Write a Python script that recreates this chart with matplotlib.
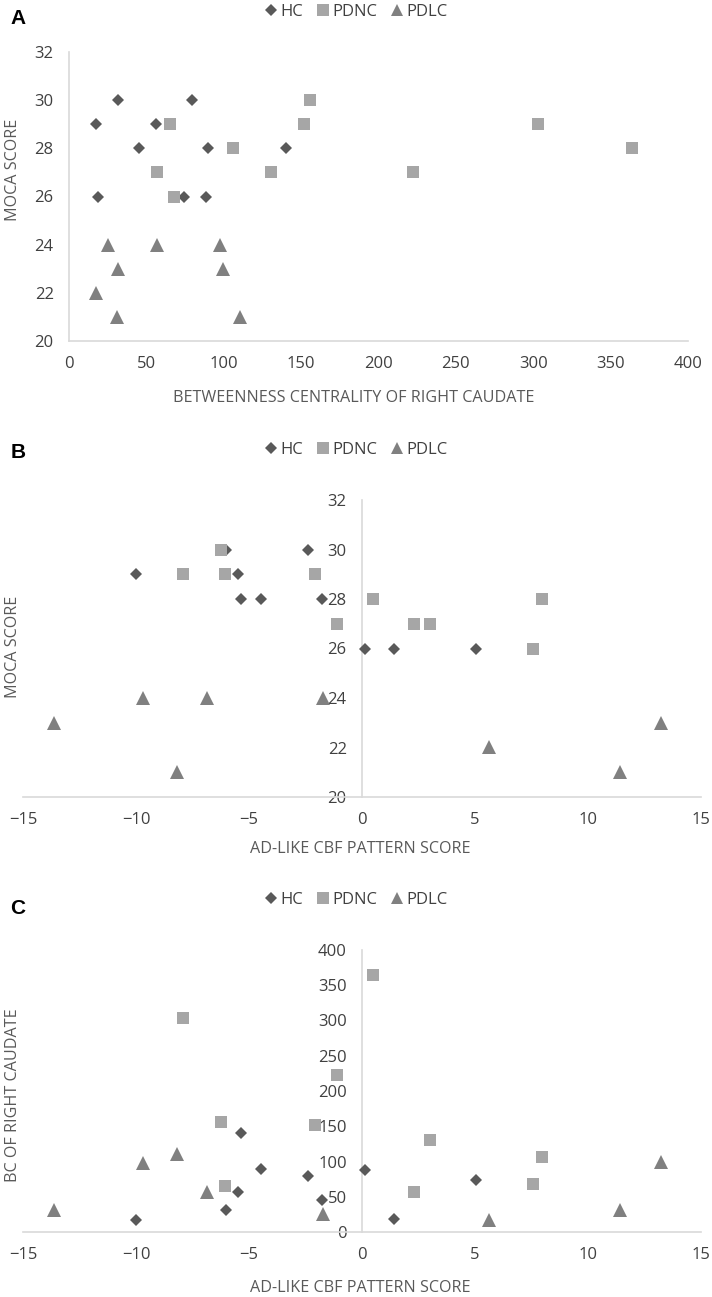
import matplotlib
matplotlib.use("Agg")
import matplotlib.pyplot as plt
from matplotlib.lines import Line2D
from matplotlib import font_manager

# ---- data (one entry per subject) ----
hc_ad = [-6.0, -2.4, -10.0, -5.5, -5.35, -4.45, -1.75, 0.15, 1.4, 5.05]
hc_moca = [30, 30, 29, 29, 28, 28, 28, 26, 26, 26]
hc_bc = [31.6, 79.5, 17.2, 56.2, 140.5, 89.5, 45.2, 88.3, 18.9, 74.0]

pdnc_ad = [-6.25, -7.9, -6.05, -2.1, 0.5, 7.95, -1.1, 2.3, 3.0, 7.55]
pdnc_moca = [30, 29, 29, 29, 28, 28, 27, 27, 27, 26]
pdnc_bc = [156.0, 303.0, 65.5, 152.0, 364.0, 106.0, 222.0, 57.0, 130.5, 67.8]

pdlc_ad = [-9.7, -6.85, -1.72, -13.65, 13.25, 5.6, -8.2, 11.4]
pdlc_moca = [24, 24, 24, 23, 23, 22, 21, 21]
pdlc_bc = [97.6, 57.0, 25.4, 31.5, 99.8, 17.5, 110.8, 31.0]

group_names = ["HC", "PDNC", "PDLC"]
ticks_bc = [0, 50, 100, 150, 200, 250, 300, 350, 400]
ticks_moca = [20, 22, 24, 26, 28, 30, 32]
ticks_ad = [-15, -10, -5, 0, 5, 10, 15]

# ---- style ----
W, H = 712, 1297
FONT = ["Open Sans", "DejaVu Sans"]
installed = {f.name for f in font_manager.fontManager.ttflist}
LEGFONT = ["Liberation Sans Narrow", "DejaVu Sans"] if "Liberation Sans Narrow" in installed else FONT
LEGSIZE = 14 if "Liberation Sans Narrow" in installed else 12
TXT = "#595959"
TICKC = "#404040"
AXC = "#d9d9d9"
styles = {
    "HC": dict(marker="D", color="#595959", ms=6.5),
    "PDNC": dict(marker="s", color="#a6a6a6", ms=9.2),
    "PDLC": dict(marker="^", color="#808080", ms=9.8),
}

plt.rcParams["font.family"] = FONT
fig = plt.figure(figsize=(W / 100, H / 100), dpi=100)


def fx(px):
    return px / W


def fy(py):
    return 1 - py / H


def make_ax(l, r, t, b):
    return fig.add_axes([fx(l), fy(b), fx(r - l), fy(t) - fy(b)])


def style_ax(ax, zero_spine):
    for s in ["top", "right"]:
        ax.spines[s].set_visible(False)
    for s in ["left", "bottom"]:
        ax.spines[s].set_color(AXC)
        ax.spines[s].set_linewidth(1.2)
    if zero_spine:
        ax.spines["left"].set_position(("data", 0))
    ax.tick_params(length=0, colors=TICKC, labelsize=12, pad=11)
    ax.set_facecolor("none")


def plot_groups(ax, xs, ys):
    for name, x, y in zip(group_names, xs, ys):
        st = styles[name]
        ax.plot(x, y, linestyle="none", marker=st["marker"], ms=st["ms"],
                color=st["color"], markeredgewidth=0, zorder=5, clip_on=False)


def legend_at(py):
    handles = [Line2D([], [], linestyle="none", marker=styles[n]["marker"],
                      ms=styles[n]["ms"] * 0.9, color=styles[n]["color"],
                      markeredgewidth=0) for n in group_names]
    fig.legend(handles, group_names, loc="center", ncol=3,
               bbox_to_anchor=(0.5, fy(py)), frameon=False,
               handlelength=0.8, handletextpad=0.15, columnspacing=0.8,
               prop=dict(family=LEGFONT, size=LEGSIZE), labelcolor=TICKC)


TSIZE = 11.6

# ---- Panel A ----
axA = make_ax(69, 688, 52, 341)
style_ax(axA, False)
plot_groups(axA, [hc_bc, pdnc_bc, pdlc_bc], [hc_moca, pdnc_moca, pdlc_moca])
axA.set_xlim(0, 400)
axA.set_ylim(20, 32)
axA.set_xticks(ticks_bc)
axA.set_yticks(ticks_moca)
legend_at(12)
fig.text(fx(18), fy(18), "A", fontsize=15, fontweight="bold",
         family=["Liberation Sans", "DejaVu Sans"], ha="center", va="center")
fig.text(fx(354), fy(398), "BETWEENNESS CENTRALITY OF RIGHT CAUDATE",
         fontsize=TSIZE, color=TXT, ha="center", va="center")
fig.text(fx(13), fy(170), "MOCA SCORE", fontsize=TSIZE, color=TXT,
         rotation=90, ha="center", va="center")

# ---- Panel B ----
axB = make_ax(23, 701, 500, 797)
style_ax(axB, True)
plot_groups(axB, [hc_ad, pdnc_ad, pdlc_ad], [hc_moca, pdnc_moca, pdlc_moca])
axB.set_xlim(-15, 15)
axB.set_ylim(20, 32)
axB.set_xticks(ticks_ad)
axB.set_yticks(ticks_moca)
legend_at(450)
fig.text(fx(18), fy(452), "B", fontsize=15, fontweight="bold",
         family=["Liberation Sans", "DejaVu Sans"], ha="center", va="center")
fig.text(fx(360), fy(849), "AD-LIKE CBF PATTERN SCORE",
         fontsize=TSIZE, color=TXT, ha="center", va="center")
fig.text(fx(13), fy(647), "MOCA SCORE", fontsize=TSIZE, color=TXT,
         rotation=90, ha="center", va="center")

# ---- Panel C ----
axC = make_ax(23, 701, 950, 1232)
style_ax(axC, True)
plot_groups(axC, [hc_ad, pdnc_ad, pdlc_ad], [hc_bc, pdnc_bc, pdlc_bc])
axC.set_xlim(-15, 15)
axC.set_ylim(0, 400)
axC.set_xticks(ticks_ad)
axC.set_yticks(ticks_bc)
legend_at(900)
fig.text(fx(18), fy(908), "C", fontsize=15, fontweight="bold",
         family=["Liberation Sans", "DejaVu Sans"], ha="center", va="center")
fig.text(fx(360), fy(1288), "AD-LIKE CBF PATTERN SCORE",
         fontsize=TSIZE, color=TXT, ha="center", va="center")
fig.text(fx(13), fy(1095), "BC OF RIGHT CAUDATE", fontsize=TSIZE, color=TXT,
         rotation=90, ha="center", va="center")

fig.savefig("out.png", dpi=100, facecolor="white")
